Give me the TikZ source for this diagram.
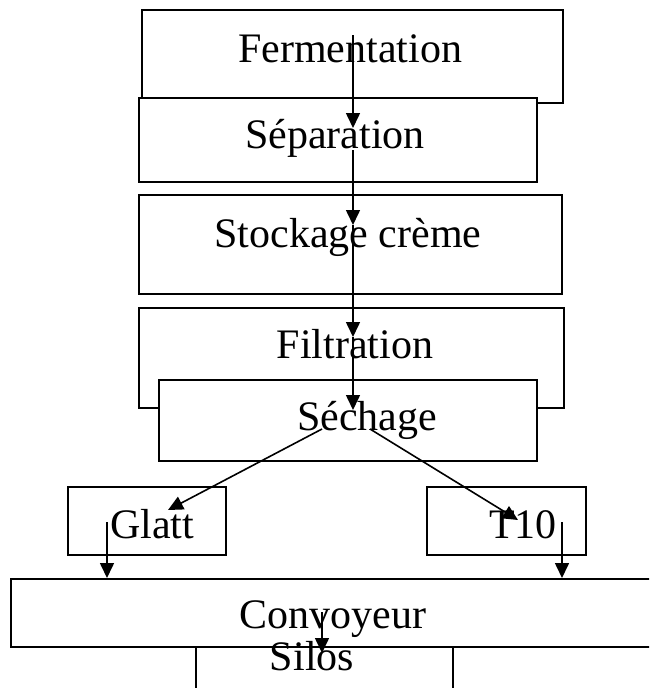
\documentclass[tikz,border=0pt]{standalone}
\usepackage{fontspec}
\setmainfont{Liberation Serif}
\usetikzlibrary{arrows.meta}
\tikzset{
  stage/.style={draw,fill=white,line width=1.7pt,inner sep=0pt,outer sep=0pt},
  lbl/.style={font=\fontsize{42}{50}\selectfont,inner sep=0pt,anchor=base},
  flow/.style={-{Triangle[width=14pt,length=15pt]},line width=1.6pt},
}

\begin{document}
\begin{tikzpicture}[x=1pt,y=-1pt]
\clip (0,0) rectangle (649,688);
% boxes, back to front
\node[stage,minimum width=421pt,minimum height=93pt] (ferm) at (352.5,56.5) {};
\node[stage,minimum width=398pt,minimum height=84pt] (sep) at (338,140) {};
\node[stage,minimum width=423pt,minimum height=99pt] (stock) at (350.5,244.5) {};
\node[stage,minimum width=425pt,minimum height=100pt] (filt) at (351.5,358) {};
\node[stage,minimum width=378pt,minimum height=81pt] (sech) at (348,420.5) {};
\node[stage,minimum width=158pt,minimum height=68pt] (glatt) at (147,521) {};
\node[stage,minimum width=159pt,minimum height=68pt] (tdix) at (506.5,521) {};
\node[stage,minimum width=257pt,minimum height=63pt] (silos) at (324.5,678.5) {};
\node[stage,minimum width=649pt,minimum height=68pt] (conv) at (335.5,613) {};
% labels
\node[lbl] (fermtxt) at (350,62) {Fermentation};
\node[lbl] (septxt) at (335,148) {Séparation};
\node[lbl] (stocktxt) at (348,247) {Stockage crème};
\node[lbl] (filttxt) at (355,358) {Filtration};
\node[lbl] (sechtxt) at (367,430) {Séchage};
\node[lbl] (glatttxt) at (152,538) {Glatt};
\node[lbl] (tdixtxt) at (523,538) {T10};
\node[lbl] (convtxt) at (333,628) {Convoyeur};
\node[lbl] (silostxt) at (312,670) {Silos};
% arrow ends
\coordinate (fermout) at (353,35);
\coordinate (sepin) at (353,128);
\coordinate (sepout) at (353,150);
\coordinate (stockin) at (353,225);
\coordinate (filtin) at (353,337);
\coordinate (sechin) at (353,410);
\coordinate (sechoutL) at (322,429);
\coordinate (sechoutR) at (370,429);
\coordinate (glattin) at (168,510);
\coordinate (tdixin) at (518,520);
\coordinate (glattout) at (107,522);
\coordinate (tdixout) at (562,522);
\coordinate (convinL) at (107,578);
\coordinate (convinR) at (562,578);
\coordinate (convout) at (322,612);
\coordinate (silosin) at (322,653);
% flow
\draw[flow] (fermout) -- (sepin);
\draw[flow] (sepout) -- (stockin);
\draw[flow] (stockin) -- (filtin);
\draw[flow] (filtin) -- (sechin);
\draw[flow] (sechoutL) -- (glattin);
\draw[flow] (sechoutR) -- (tdixin);
\draw[flow] (glattout) -- (convinL);
\draw[flow] (tdixout) -- (convinR);
\draw[flow] (convout) -- (silosin);
\end{tikzpicture}
\end{document}
